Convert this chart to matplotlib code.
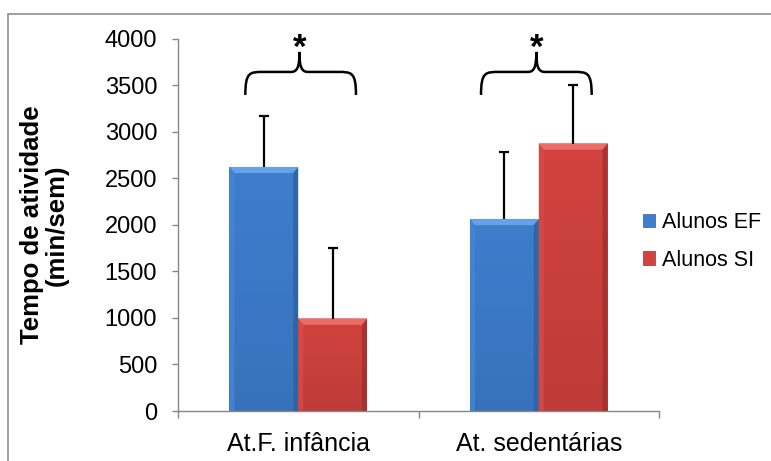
import matplotlib
matplotlib.use("Agg")
import matplotlib.pyplot as plt
from matplotlib.patches import Polygon, Rectangle, PathPatch, Patch
from matplotlib.path import Path
import numpy as np

plt.rcParams['font.family'] = ['Liberation Sans', 'DejaVu Sans']

categories = ["At.F. infância", "At. sedentárias"]
series_names = ["Alunos EF", "Alunos SI"]
alunos_ef = [2620, 2060]
alunos_si = [990, 2870]
err_ef = [550, 720]
err_si = [760, 630]
yticks = [0, 500, 1000, 1500, 2000, 2500, 3000, 3500, 4000]
signif = ["*", "*"]

colors = {
    "Alunos EF": dict(face="#3e7ecd", top="#64a2ea", left="#4586d3", right="#305f9e", bottom="#3368ae"),
    "Alunos SI": dict(face="#d2433f", top="#ec6c68", left="#d74b47", right="#9f302d", bottom="#ad3633"),
}

W, H = 771, 461
fig = plt.figure(figsize=(W / 100, H / 100), dpi=100)
ax = fig.add_axes([178 / W, 1 - 411 / H, (659 - 178) / W, (411 - 38.5) / H])

x = np.arange(len(categories))
bw = 0.286
vals_all = [alunos_ef, alunos_si]
errs_all = [err_ef, err_si]
offsets = [-bw / 2, bw / 2]

ax.set_xlim(-0.5, len(categories) - 0.5)
ax.set_ylim(0, 4000)
px_x = (len(categories)) / (659 - 178)
px_y = 4000 / (411 - 38.5)

for name, vals, errs, off in zip(series_names, vals_all, errs_all, offsets):
    c = colors[name]
    bars = ax.bar(x + off, vals, width=bw, color=c["face"], edgecolor="none", zorder=2)
    for r in bars:
        x0, y0 = r.get_x(), r.get_y()
        w, h = r.get_width(), r.get_height()
        bx = 5 * px_x
        by = min(6 * px_y, h / 3)
        x1, y1 = x0 + w, y0 + h
        grad = np.linspace(0, 1, 50).reshape(-1, 1)
        ax.imshow(grad, extent=[x0, x1, y0, y1], aspect="auto",
                  cmap=matplotlib.colors.LinearSegmentedColormap.from_list(
                      "g", [c["bottom"], c["face"]]), alpha=0.55, zorder=2.5, origin="lower")
        ax.add_patch(Polygon([[x0, y1], [x1, y1], [x1 - bx, y1 - by], [x0 + bx, y1 - by]],
                             closed=True, color=c["top"], lw=0, zorder=3))
        ax.add_patch(Polygon([[x0, y0], [x0, y1], [x0 + bx, y1 - by], [x0 + bx, y0]],
                             closed=True, color=c["left"], lw=0, zorder=3, alpha=0.8))
        ax.add_patch(Polygon([[x1, y0], [x1, y1], [x1 - bx, y1 - by], [x1 - bx, y0]],
                             closed=True, color=c["right"], lw=0, zorder=3, alpha=0.8))
    eb = ax.errorbar(x + off, vals, yerr=[np.zeros(len(vals)), errs], fmt="none",
                     ecolor="black", elinewidth=1.6, capsize=3.8, capthick=1.6, zorder=4)
    for cl in eb[1]:
        if np.allclose(cl.get_ydata(), vals):
            cl.set_visible(False)

ax.set_xlim(-0.5, len(categories) - 0.5)
ax.set_ylim(0, 4000)

# significance braces
for i, s in enumerate(signif):
    c = x[i]
    if i == 0:
        xl, xr, cx = c - 0.22, c + 0.24, c + 0.005
    else:
        xl, xr, cx = c - 0.24, c + 0.22, c - 0.01
    y0, y1, y2 = 3394, 3641, 3856
    rx = 0.075
    rc = 0.035
    verts = [
        (xl, y0), (xl, y1), (xl + rx * 0.25, y1), (xl + rx, y1),
        (cx - rc, y1),
        (cx - rc * 0.2, y1), (cx, y1 + (y2 - y1) * 0.3), (cx, y2),
        (cx, y1 + (y2 - y1) * 0.3), (cx + rc * 0.2, y1), (cx + rc, y1),
        (xr - rx, y1),
        (xr - rx * 0.25, y1), (xr, y1), (xr, y0),
    ]
    codes = [Path.MOVETO, Path.CURVE4, Path.CURVE4, Path.CURVE4,
             Path.LINETO,
             Path.CURVE4, Path.CURVE4, Path.CURVE4,
             Path.CURVE4, Path.CURVE4, Path.CURVE4,
             Path.LINETO,
             Path.CURVE4, Path.CURVE4, Path.CURVE4]
    ax.add_patch(PathPatch(Path(verts, codes), facecolor="none", edgecolor="black",
                           lw=1.8, clip_on=False, zorder=5))
    ax.text(cx, 3790, s, ha="center", va="baseline", fontsize=25, fontweight="bold",
            clip_on=False)

for sp in ["top", "right"]:
    ax.spines[sp].set_visible(False)
for sp in ["left", "bottom"]:
    ax.spines[sp].set_color("#868686")
    ax.spines[sp].set_linewidth(1.0)

ax.set_yticks(yticks)
ax.set_yticklabels([str(v) for v in yticks])
ax.tick_params(axis="y", direction="out", length=4, width=1, color="#868686",
               labelsize=17, pad=11, labelcolor="black")
ax.set_xticks(x)
ax.set_xticklabels(categories)
ax.set_xticks(np.arange(-0.5, len(categories)), minor=True)
ax.tick_params(axis="x", which="major", length=0, labelsize=18, pad=15, labelcolor="black")
ax.tick_params(axis="x", which="minor", direction="out", length=5, width=1, color="#868686")

ax.set_ylabel("Tempo de atividade\n(min/sem)", fontsize=18.5, fontweight="bold",
              labelpad=26, linespacing=1.05)

handles = [Patch(facecolor=colors[n]["face"], edgecolor=colors[n]["right"], lw=0.5) for n in series_names]
fig.legend(handles, series_names, loc="center left", bbox_to_anchor=(643 / W, 1 - 241.5 / H),
           frameon=False, fontsize=15.5, handlelength=0.56, handleheight=0.56,
           handletextpad=0.3, labelspacing=0.75, borderpad=0, borderaxespad=0)

fig.patches.append(Rectangle((8 / W, -0.05), 1.0, (H - 14) / H + 0.05,
                             transform=fig.transFigure, fill=False,
                             edgecolor="#8f8f8f", lw=1.2, clip_on=False))

fig.savefig("out.png", dpi=100)
